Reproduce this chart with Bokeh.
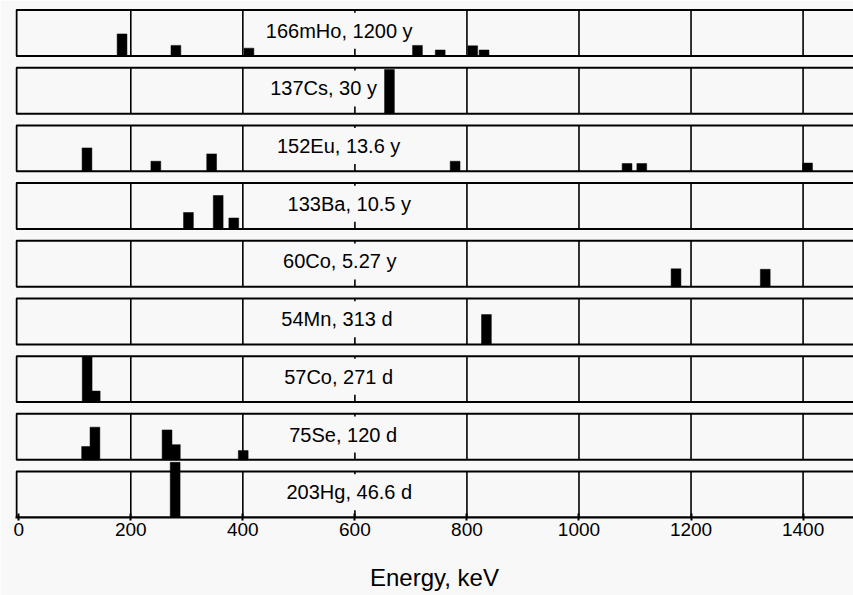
from bokeh.plotting import figure
from bokeh.models import ColumnDataSource, Range1d, FixedTicker
from bokeh.core.properties import value
from bokeh.embed import file_html
from bokeh.resources import INLINE

# ---------------- data ----------------
nuclides = ["166mHo, 1200 y", "137Cs, 30 y", "152Eu, 13.6 y", "133Ba, 10.5 y",
            "60Co, 5.27 y", "54Mn, 313 d", "57Co, 271 d", "75Se, 120 d", "203Hg, 46.6 d"]

ho166_energy = [184.4, 280.5, 410.9, 711.7, 752.3, 810.3, 830.6]
ho166_height = [0.48, 0.23, 0.17, 0.23, 0.13, 0.22, 0.13]
cs137_energy = [661.7]
cs137_height = [0.96]
eu152_energy = [121.8, 244.7, 344.3, 778.9, 1085.8, 1112.1, 1408.0]
eu152_height = [0.51, 0.22, 0.38, 0.22, 0.17, 0.17, 0.18]
ba133_energy = [302.9, 356.0, 383.8]
ba133_height = [0.36, 0.73, 0.24]
co60_energy = [1173.2, 1332.5]
co60_height = [0.39, 0.38]
mn54_energy = [834.8]
mn54_height = [0.65]
co57_energy = [122.1, 136.5]
co57_height = [0.98, 0.24]
se75_energy = [121.1, 136.0, 264.7, 279.5, 400.7]
se75_height = [0.29, 0.71, 0.65, 0.33, 0.20]
hg203_energy = [279.2]
hg203_height = [1.20]

energy_ticks = [0, 200, 400, 600, 800, 1000, 1200, 1400]

lines = [
    (ho166_energy, ho166_height),
    (cs137_energy, cs137_height),
    (eu152_energy, eu152_height),
    (ba133_energy, ba133_height),
    (co60_energy, co60_height),
    (mn54_energy, mn54_height),
    (co57_energy, co57_height),
    (se75_energy, se75_height),
    (hg203_energy, hg203_height),
]

# ---------------- layout / style ----------------
BG = "#f8f8f8"
FONT = "Liberation Sans"
N = len(nuclides)
PITCH = 1.0
PANEL_H = 0.797
BAR_W = 17.5
X_START, X_END = -5.8, 1490
PANEL_LEFT = X_START + 1.8
Y_END = (N - 1) * PITCH + PANEL_H + 0.026
label_x = [572, 544, 571, 590, 573, 568, 571, 579, 590]
LABEL_Y_FRAC = 0.55

bases = [(N - 1 - i) * PITCH for i in range(N)]

p = figure(frame_width=838, frame_height=509,
           min_border_left=15, min_border_right=0, min_border_top=8, min_border_bottom=78,
           x_range=Range1d(X_START, X_END), y_range=Range1d(0, Y_END),
           output_backend="svg", toolbar_location=None, y_axis_location=None,
           background_fill_color=BG, border_fill_color=BG)
p.grid.visible = False
p.outline_line_color = None

# grid lines inside each panel
gx, gy0, gy1 = [], [], []
for b in bases:
    for t in energy_ticks[1:]:
        gx.append(t)
        gy0.append(b)
        gy1.append(b + PANEL_H)
p.segment(x0=gx, y0=gy0, x1=gx, y1=gy1, line_color="black", line_width=1.6)

# panel labels (with background that hides the grid line behind them)
lab_src = ColumnDataSource(dict(x=label_x, y=[b + PANEL_H * LABEL_Y_FRAC for b in bases], text=nuclides))
p.text(x="x", y="y", text="text", source=lab_src,
       text_font=value(FONT), text_font_size=value("20px"), text_color="black",
       text_align="center", text_baseline="middle",
       background_fill_color=BG, padding=7)

# gamma lines
left, right, bottom, top = [], [], [], []
for b, (es, hs) in zip(bases, lines):
    for e, h in zip(es, hs):
        left.append(e - BAR_W / 2)
        right.append(e + BAR_W / 2)
        bottom.append(b)
        top.append(b + h * PANEL_H)
bar_src = ColumnDataSource(dict(left=left, right=right, bottom=bottom, top=top))
p.quad(left="left", right="right", bottom="bottom", top="top", source=bar_src,
       fill_color="black", line_color="black", line_width=0.5)

# panel frames
p.quad(left=[PANEL_LEFT] * N, right=[X_END + 100] * N, bottom=bases,
       top=[b + PANEL_H for b in bases], fill_color=None, line_color="black", line_width=2)

# x axis
ax = p.xaxis[0]
ax.ticker = FixedTicker(ticks=energy_ticks)
ax.axis_line_color = "black"
ax.axis_line_width = 2
ax.major_tick_line_color = "black"
ax.major_tick_line_width = 2
ax.major_tick_in = 4
ax.major_tick_out = 3
ax.minor_tick_line_color = None
ax.major_label_standoff = 2
ax.major_label_text_font = FONT
ax.major_label_text_font_size = "19px"
ax.major_label_text_color = "black"
ax.axis_label = "Energy, keV"
ax.axis_label_text_font = FONT
ax.axis_label_text_font_size = "24px"
ax.axis_label_text_font_style = "normal"
ax.axis_label_text_color = "black"
ax.axis_label_standoff = 25

open("out.html", "w").write(file_html(p, INLINE))
